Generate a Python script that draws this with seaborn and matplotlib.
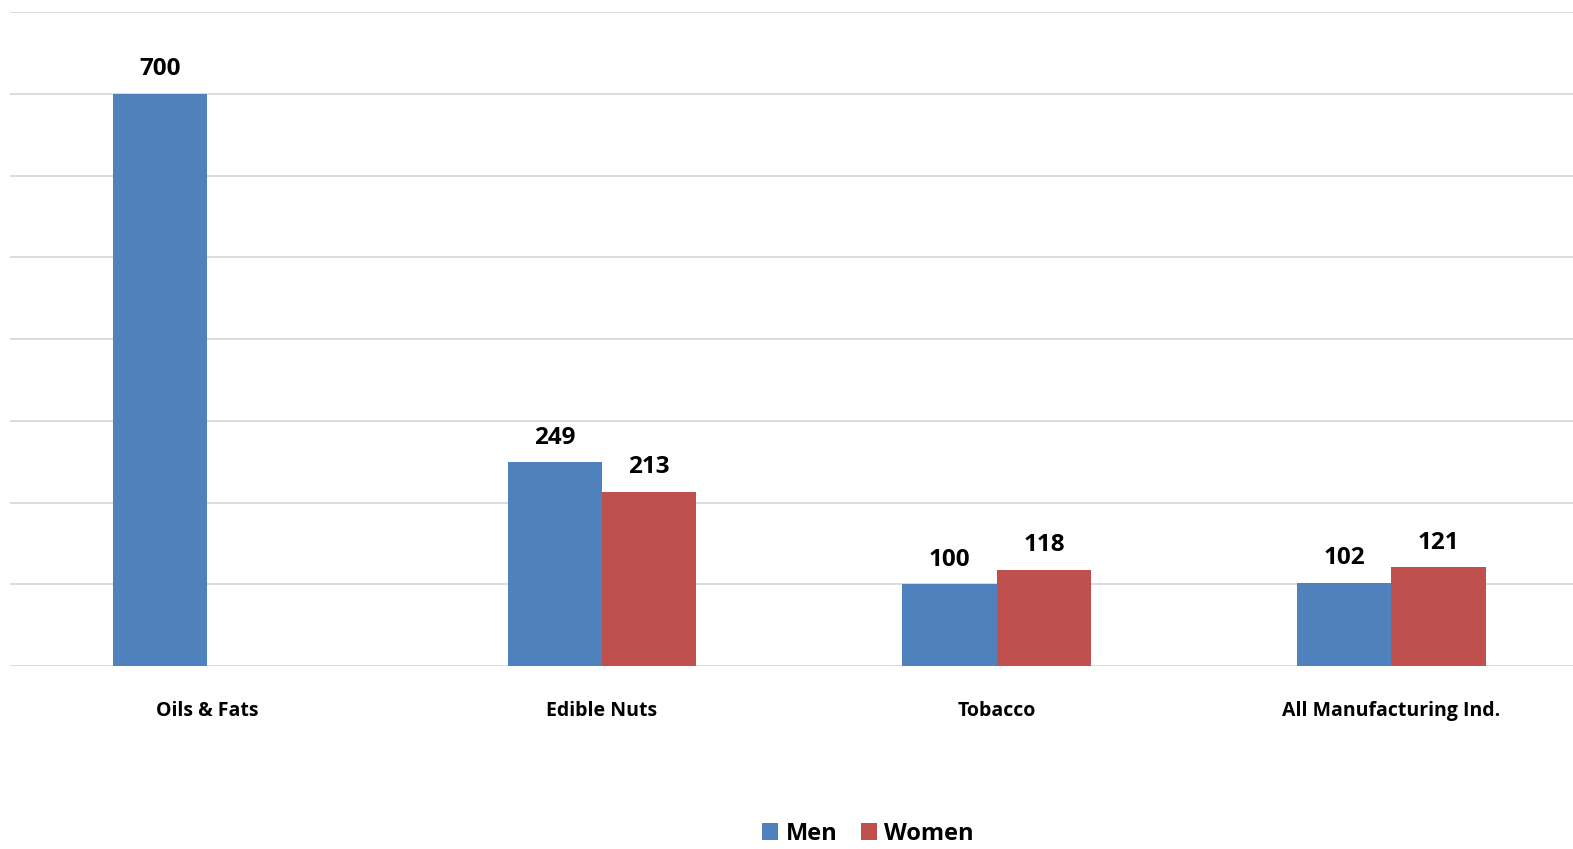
import numpy as np
import pandas as pd
import matplotlib
matplotlib.use("Agg")
import matplotlib.pyplot as plt
import seaborn as sns
from matplotlib.patches import Patch

categories = ["Oils & Fats", "Edible Nuts", "Tobacco", "All Manufacturing Ind."]
men = [700, 249, 100, 102]
women = [np.nan, 213, 118, 121]
series = ["Men", "Women"]
colors = ["#4F81BD", "#C0504D"]

sns.set_theme(style="white")
plt.rcParams["font.family"] = ["Open Sans", "DejaVu Sans"]

df = pd.DataFrame({
    "category": categories * 2,
    "group": ["Men"] * len(categories) + ["Women"] * len(categories),
    "value": men + women,
})

fig = plt.figure(figsize=(15.73, 8.49), dpi=100)
ax = fig.add_axes([10 / 1573, 183 / 849, 1 - 10 / 1573, (666 - 12) / 849])

sns.barplot(data=df, x="category", y="value", hue="group", order=categories,
            hue_order=series, palette=colors, width=0.478, ax=ax,
            saturation=1, legend=False, edgecolor="none", linewidth=0)

ax.set_ylim(0, 800)
ax.set_xlim(-0.5, 3.46)
ax.set_yticks(np.arange(0, 801, 100))
ax.yaxis.grid(True, color="#D9D9D9", linewidth=1.3)
ax.set_axisbelow(True)
ax.tick_params(axis="y", left=False, labelleft=False)
ax.tick_params(axis="x", bottom=False, pad=19)
for s in ax.spines.values():
    s.set_visible(False)
ax.set_xlabel("")
ax.set_ylabel("")
for lbl in ax.get_xticklabels():
    lbl.set_fontweight("bold")
    lbl.set_fontsize(14)
    lbl.set_color("#000000")

for p in ax.patches:
    h = p.get_height()
    if h is None or np.isnan(h) or h <= 0:
        continue
    ax.annotate(f"{h:.0f}", (p.get_x() + p.get_width() / 2, h),
                xytext=(0, 9), textcoords="offset points",
                ha="center", va="bottom", fontsize=17.5, fontweight="bold",
                color="#000000")

handles = [Patch(facecolor=c, edgecolor="none") for c in colors]
fig.legend(handles, series, loc="center", bbox_to_anchor=(868 / 1573, 1 - 834 / 849),
           ncol=2, frameon=False, prop={"weight": "bold", "size": 17},
           labelcolor="#000000",
           handlelength=0.7, handleheight=0.7, handletextpad=0.3, columnspacing=1.0)

fig.savefig("out.png", dpi=100, facecolor="white")
